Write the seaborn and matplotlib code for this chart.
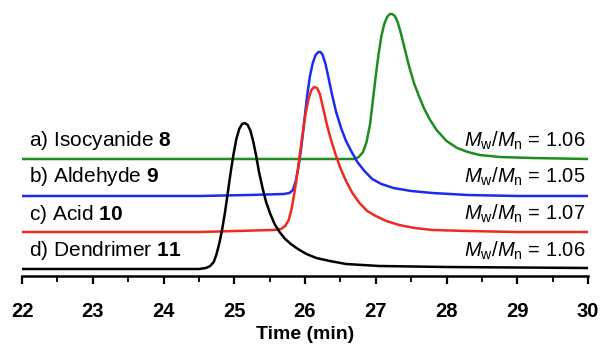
import matplotlib
matplotlib.use("Agg")
import matplotlib.pyplot as plt
import seaborn as sns
import pandas as pd
from matplotlib.ticker import MultipleLocator

# -----------------------------
# GPC traces (signal is offset per trace)
# -----------------------------
time_a = [22.00, 26.70, 26.76, 26.82, 26.87, 26.92, 26.96, 27.00, 27.04, 27.08, 27.12,
          27.16, 27.20, 27.23, 27.27, 27.31, 27.35, 27.40, 27.47, 27.54, 27.61, 27.68,
          27.76, 27.86, 28.00, 28.15, 28.30, 28.47, 28.75, 29.20, 30.00]
sig_a = [117, 117, 119, 124, 134, 152, 176, 200, 222, 240, 252,
         259, 262, 262, 260, 254, 244, 230, 210, 193, 180, 168,
         157, 146, 135, 128, 124, 121, 119, 118, 117]

time_b = [22.00, 24.50, 25.21, 25.70, 25.78, 25.83, 25.87, 25.91, 25.95, 25.99, 26.03,
          26.07, 26.11, 26.15, 26.19, 26.22, 26.25, 26.29, 26.33, 26.38, 26.44, 26.51,
          26.58, 26.66, 26.74, 26.84, 26.95, 27.08, 27.25, 27.50, 27.80, 28.30, 29.00,
          30.00]
sig_b = [80, 80, 81, 82, 83, 86, 95, 110, 130, 155, 180,
         200, 213, 221, 224, 224, 221, 212, 199, 182, 164, 148,
         135, 124, 114, 105, 97, 92, 88, 85, 83, 81, 80,
         80]

time_c = [22.00, 24.50, 25.55, 25.66, 25.72, 25.77, 25.81, 25.85, 25.89, 25.93, 25.97,
          26.01, 26.05, 26.09, 26.13, 26.17, 26.21, 26.25, 26.30, 26.36, 26.43, 26.50,
          26.58, 26.67, 26.77, 26.88, 27.00, 27.15, 27.33, 27.55, 27.80, 28.30, 29.00,
          30.00]
sig_c = [44, 44, 46, 47, 50, 56, 67, 83, 102, 123, 144,
         163, 177, 186, 189, 188, 182, 170, 154, 138, 122, 108,
         95, 83, 73, 65, 60, 55, 51, 48, 46, 45, 44,
         44]

time_d = [22.00, 24.50, 24.60, 24.66, 24.71, 24.75, 24.79, 24.83, 24.87, 24.91, 24.95,
          24.99, 25.03, 25.07, 25.11, 25.15, 25.19, 25.23, 25.27, 25.31, 25.35, 25.40,
          25.45, 25.51, 25.57, 25.64, 25.72, 25.80, 25.90, 26.02, 26.16, 26.35, 26.58,
          27.05, 28.00, 30.00]
sig_d = [7, 7, 8, 10, 14, 22, 33, 47, 64, 84, 104,
         122, 137, 147, 152, 153, 151, 145, 134, 120, 104, 88,
         74, 62, 52, 44, 37, 32, 27, 22, 18, 15, 12,
         10, 9, 8]

names = [r"a) Isocyanide $\mathbf{8}$", r"b) Aldehyde $\mathbf{9}$",
         r"c) Acid $\mathbf{10}$", r"d) Dendrimer $\mathbf{11}$"]
dispersity = ["1.06", "1.05", "1.07", "1.06"]
label_y = [135, 99, 62, 25]
colors = ["#1e8c1e", "#1a2cf0", "#f02a1e", "#000000"]

traces = [(time_a, sig_a), (time_b, sig_b), (time_c, sig_c), (time_d, sig_d)]

# -----------------------------
# Style
# -----------------------------
sns.set_style("ticks")
plt.rcParams["font.family"] = ["Liberation Sans", "DejaVu Sans"]
plt.rcParams["mathtext.fontset"] = "custom"
plt.rcParams["mathtext.rm"] = "Liberation Sans"
plt.rcParams["mathtext.it"] = "Liberation Sans:italic"
plt.rcParams["mathtext.bf"] = "Liberation Sans:bold"
plt.rcParams["text.color"] = "black"
plt.rcParams["axes.labelcolor"] = "black"
plt.rcParams["xtick.color"] = "black"
plt.rcParams["axes.edgecolor"] = "black"

fig = plt.figure(figsize=(6.01, 3.53), dpi=100)
ax = fig.add_axes([22 / 601, 77 / 353, 566 / 601, 276 / 353])

for (t, s), c in zip(traces, colors):
    df = pd.DataFrame({"time": t, "signal": s})
    sns.lineplot(data=df, x="time", y="signal", color=c, lw=1.8,
                 estimator=None, sort=False, ax=ax,
                 solid_joinstyle="round", solid_capstyle="round")

for name, d, y in zip(names, dispersity, label_y):
    ax.text(22.1, y, name, fontsize=15, va="center", ha="left")
    ax.text(29.96, y, r"$M_\mathrm{w}/M_\mathrm{n}$ = " + d, fontsize=14.5,
            va="center", ha="right")

ax.set_xlim(22, 30)
ax.set_ylim(0, 276)
ax.xaxis.set_major_locator(MultipleLocator(1))
ax.xaxis.set_minor_locator(MultipleLocator(0.5))
ax.set_yticks([])
for side in ["top", "right", "left"]:
    ax.spines[side].set_visible(False)
ax.spines["bottom"].set_linewidth(1.8)
ax.tick_params(axis="x", which="major", length=5.5, width=1.6, pad=13, labelsize=14.5)
ax.tick_params(axis="x", which="minor", length=4, width=1.3)
for lbl in ax.get_xticklabels():
    lbl.set_fontweight("bold")
ax.set_xlabel("Time (min)", fontsize=14, fontweight="bold", labelpad=4)
ax.set_ylabel("")

fig.savefig("out.png", dpi=100)
